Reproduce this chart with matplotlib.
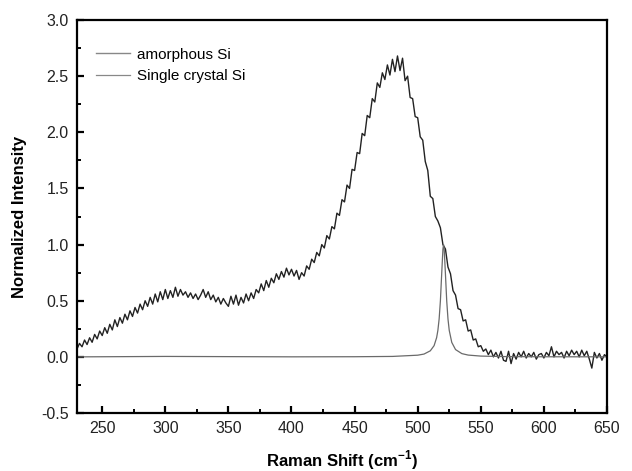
import numpy as np
import matplotlib
matplotlib.use("Agg")
import matplotlib.pyplot as plt
from matplotlib.ticker import MultipleLocator, FormatStrFormatter

plt.rcParams['font.family'] = ['Liberation Sans', 'DejaVu Sans']
plt.rcParams['axes.unicode_minus'] = False
plt.rcParams['mathtext.fontset'] = 'custom'
plt.rcParams['mathtext.rm'] = 'Liberation Sans'
plt.rcParams['mathtext.bf'] = 'Liberation Sans:bold'

# amorphous Si spectrum, read every 2 cm-1 from 230 to 650
amorphous_start = 230
amorphous_step = 2
amorphous_si = [
    0.07, 0.12, 0.09, 0.15, 0.11, 0.17, 0.13, 0.20, 0.16, 0.23,
    0.19, 0.26, 0.21, 0.29, 0.24, 0.33, 0.27, 0.35, 0.30, 0.38,
    0.33, 0.41, 0.36, 0.44, 0.39, 0.47, 0.42, 0.50, 0.45, 0.53,
    0.47, 0.56, 0.49, 0.58, 0.51, 0.60, 0.52, 0.59, 0.53, 0.62,
    0.54, 0.60, 0.55, 0.58, 0.53, 0.57, 0.52, 0.56, 0.51, 0.55,
    0.60, 0.53, 0.58, 0.51, 0.55, 0.49, 0.53, 0.47, 0.52, 0.48,
    0.45, 0.54, 0.47, 0.55, 0.46, 0.53, 0.48, 0.56, 0.50, 0.57,
    0.52, 0.60, 0.57, 0.65, 0.59, 0.68, 0.62, 0.70, 0.66, 0.74,
    0.69, 0.76, 0.71, 0.79, 0.73, 0.78, 0.72, 0.77, 0.69, 0.75,
    0.72, 0.81, 0.78, 0.87, 0.84, 0.93, 0.90, 1.00, 0.97, 1.08,
    1.05, 1.16, 1.14, 1.28, 1.26, 1.40, 1.38, 1.53, 1.50, 1.67,
    1.66, 1.82, 1.81, 1.99, 1.97, 2.15, 2.13, 2.30, 2.27, 2.44,
    2.40, 2.53, 2.47, 2.60, 2.51, 2.65, 2.54, 2.68, 2.55, 2.66,
    2.46, 2.50, 2.31, 2.30, 2.14, 2.13, 1.96, 1.93, 1.74, 1.66,
    1.43, 1.41, 1.25, 1.21, 1.15, 1.00, 0.96, 0.80, 0.74, 0.59,
    0.55, 0.43, 0.42, 0.32, 0.33, 0.23, 0.24, 0.15, 0.16, 0.09,
    0.10, 0.05, 0.07, 0.02, 0.06, 0.00, 0.04, -0.01, 0.05, -0.03,
    -0.04, 0.05, -0.06, 0.03, -0.02, 0.04, 0.00, 0.05, -0.01, 0.03,
    0.00, 0.04, -0.02, 0.02, 0.03, -0.01, 0.04, 0.01, 0.09, 0.00,
    0.05, 0.02, 0.04, -0.01, 0.05, 0.01, 0.06, 0.02, 0.05, 0.00,
    0.06, 0.01, 0.05, -0.02, -0.10, 0.04, -0.01, 0.03, -0.03, 0.02,
    0.00,
]

# single crystal Si spectrum (sharp line near 520 cm-1)
crystal_shift = [230, 300, 400, 450, 480, 500, 505, 510, 513, 515, 516, 517,
                 518, 519, 520, 520.5, 521, 522, 523, 524, 525, 527, 530, 535,
                 540, 550, 570, 600, 650]
crystal_si = [0.0, 0.004, 0.0004, 0.0013, 0.004, 0.015, 0.025, 0.054, 0.10,
              0.171, 0.236, 0.338, 0.50, 0.735, 0.96, 1.0, 0.96, 0.735, 0.50,
              0.338, 0.236, 0.129, 0.065, 0.029, 0.016, 0.007, 0.0025, 0.001,
              0.0004]

amorphous_shift = amorphous_start + amorphous_step * np.arange(len(amorphous_si))

fig = plt.figure(figsize=(6.32, 4.71), dpi=100)
ax = fig.add_axes([0.1218, 0.1231, 0.8386, 0.8344])

ax.plot(amorphous_shift, amorphous_si, color='#222222', lw=1.0, label='amorphous Si')
ax.plot(crystal_shift, crystal_si, color='#6a6a6a', lw=0.9, label='Single crystal Si')

ax.set_xlim(230, 650)
ax.set_ylim(-0.5, 3.0)
ax.xaxis.set_major_locator(MultipleLocator(50))
ax.xaxis.set_minor_locator(MultipleLocator(25))
ax.yaxis.set_major_locator(MultipleLocator(0.5))
ax.yaxis.set_minor_locator(MultipleLocator(0.25))
ax.yaxis.set_major_formatter(FormatStrFormatter('%.1f'))

for s in ax.spines.values():
    s.set_linewidth(1.6)
ax.tick_params(which='both', direction='in', top=False, right=False,
               labelsize=11.5, colors='black', labelcolor='#222222')
ax.tick_params(which='major', length=5, width=1.6, pad=6)
ax.tick_params(which='minor', length=3, width=1.4)

ax.set_xlabel(r'Raman Shift (cm$^{\mathbf{-1}}$)', fontsize=12, fontweight='bold', labelpad=9)
ax.set_ylabel('Normalized Intensity', fontsize=12, fontweight='bold', labelpad=10)

leg = ax.legend(loc='upper left', frameon=False, fontsize=11,
                handlelength=2.2, handletextpad=0.45, labelspacing=0.5,
                bbox_to_anchor=(0.01, 0.965))
for h in leg.legend_handles:
    h.set_color('#888888')

fig.savefig('out.png', dpi=100)
